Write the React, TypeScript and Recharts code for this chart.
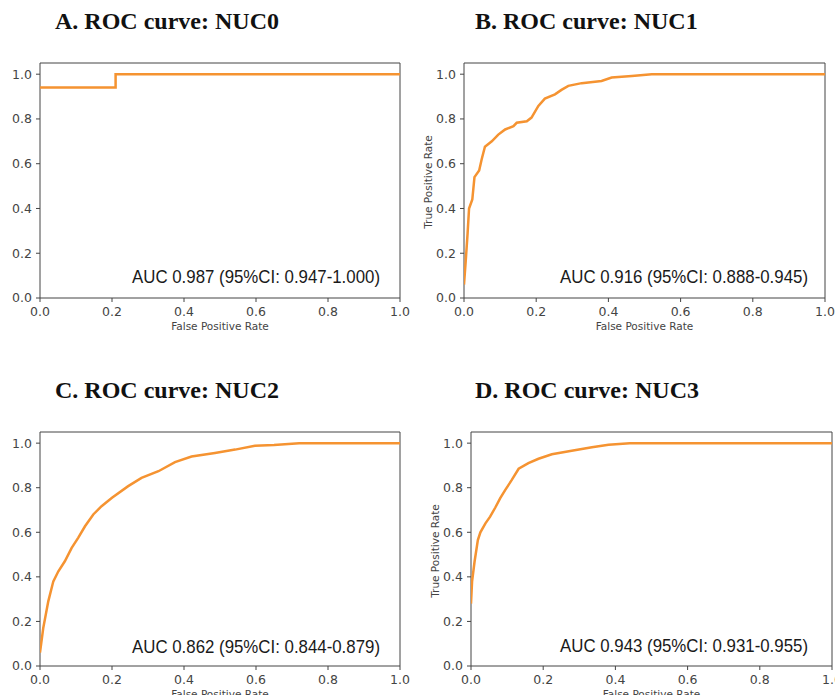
import React from 'react';
import { LineChart, Line, XAxis, YAxis, ReferenceArea } from 'recharts';

const TICKS = [0, 0.2, 0.4, 0.6, 0.8, 1.0];
const TITLES = ['A. ROC curve: NUC0', 'B. ROC curve: NUC1', 'C. ROC curve: NUC2', 'D. ROC curve: NUC3'];
const AUC_LABELS = [
  'AUC 0.987 (95%CI: 0.947-1.000)',
  'AUC 0.916 (95%CI: 0.888-0.945)',
  'AUC 0.862 (95%CI: 0.844-0.879)',
  'AUC 0.943 (95%CI: 0.931-0.955)',
];
const X_LABEL = 'False Positive Rate';
const Y_LABEL = 'True Positive Rate';

const fprA = [0, 0.21, 0.21, 1.0];
const tprA = [0.94, 0.94, 1.0, 1.0];

const fprB = [0, 0.005, 0.01, 0.014, 0.023, 0.029, 0.042, 0.049, 0.058, 0.077, 0.095, 0.114, 0.137, 0.146, 0.174, 0.187, 0.206, 0.224, 0.252, 0.27, 0.289, 0.326, 0.381, 0.409, 0.465, 0.52, 1.0];
const tprB = [0.06, 0.17, 0.29, 0.40, 0.44, 0.54, 0.57, 0.62, 0.676, 0.70, 0.73, 0.753, 0.768, 0.783, 0.79, 0.806, 0.858, 0.891, 0.91, 0.93, 0.948, 0.96, 0.97, 0.985, 0.992, 1.0, 1.0];

const fprC = [0, 0.009, 0.023, 0.037, 0.051, 0.069, 0.088, 0.106, 0.125, 0.148, 0.171, 0.2, 0.245, 0.282, 0.329, 0.375, 0.421, 0.486, 0.542, 0.597, 0.65, 0.72, 1.0];
const tprC = [0.06, 0.17, 0.29, 0.38, 0.425, 0.47, 0.53, 0.575, 0.627, 0.68, 0.717, 0.755, 0.807, 0.844, 0.874, 0.915, 0.94, 0.956, 0.971, 0.988, 0.992, 1.0, 1.0];

const fprD = [0, 0.003, 0.01, 0.019, 0.026, 0.04, 0.053, 0.067, 0.081, 0.095, 0.113, 0.132, 0.159, 0.187, 0.224, 0.279, 0.335, 0.381, 0.44, 1.0];
const tprD = [0.28, 0.38, 0.47, 0.565, 0.60, 0.64, 0.67, 0.71, 0.753, 0.79, 0.835, 0.885, 0.91, 0.93, 0.95, 0.966, 0.982, 0.993, 1.0, 1.0];

const toRows = (f: number[], t: number[]) => f.map((x, i) => ({ fpr: x, tpr: t[i] }));

const LINE_COLOR = '#f59331';
const AXIS_COLOR = '#444';
const TEXT_GRAY = '#444';

type Box = { left: number; top: number; plotLeft: number; plotTop: number; plotW: number; plotH: number; rightPad: number };

const BOXES: Box[] = [
  { left: 0, top: 50, plotLeft: 40, plotTop: 63, plotW: 360, plotH: 235, rightPad: 10 },
  { left: 415, top: 50, plotLeft: 464, plotTop: 63, plotW: 361, plotH: 235, rightPad: 10 },
  { left: 0, top: 419, plotLeft: 40, plotTop: 432, plotW: 360, plotH: 234, rightPad: 10 },
  { left: 415, top: 419, plotLeft: 471, plotTop: 432, plotW: 361, plotH: 234, rightPad: 3 },
];

const fmt = (v: number) => v.toFixed(1);

function Panel({ box, rows }: { box: Box; rows: { fpr: number; tpr: number }[] }) {
  const { left, top, plotLeft, plotTop, plotW, plotH, rightPad } = box;
  const yW = plotLeft - left;
  const mt = plotTop - top;
  const xH = 45;
  const width = yW + plotW + rightPad;
  const height = mt + plotH + xH;
  const tickStyle = { fill: TEXT_GRAY, fontSize: 12.5, fontFamily: 'DejaVu Sans' };
  return (
    <div style={{ position: 'absolute', left, top }}>
      <LineChart width={width} height={height} data={rows} margin={{ top: mt, right: rightPad, left: 0, bottom: 0 }}>
        <XAxis
          dataKey="fpr"
          type="number"
          domain={[0, 1]}
          ticks={TICKS}
          interval={0}
          tickFormatter={fmt}
          allowDataOverflow
          height={xH}
          tickSize={4}
          tickMargin={5}
          axisLine={false}
          tickLine={{ stroke: AXIS_COLOR }}
          tick={tickStyle}
          label={{ value: X_LABEL, position: 'insideBottom', offset: 13, fill: TEXT_GRAY, fontSize: 10.5, fontFamily: 'DejaVu Sans' }}
        />
        <YAxis
          type="number"
          domain={[0, 1.05]}
          ticks={TICKS}
          interval={0}
          tickFormatter={fmt}
          allowDataOverflow
          width={yW}
          tickSize={4}
          tickMargin={4}
          axisLine={false}
          tickLine={{ stroke: AXIS_COLOR }}
          tick={tickStyle}
        />
        <ReferenceArea x1={0} x2={1} y1={0} y2={1.05} fill="none" fillOpacity={0} stroke={AXIS_COLOR} strokeWidth={1} ifOverflow="visible" />
        <Line dataKey="tpr" type="linear" stroke={LINE_COLOR} strokeWidth={2.5} dot={false} activeDot={false} isAnimationActive={false} />
      </LineChart>
    </div>
  );
}

const DATASETS = [toRows(fprA, tprA), toRows(fprB, tprB), toRows(fprC, tprC), toRows(fprD, tprD)];

const TITLE_POS = [
  { x: 55, y: 29 },
  { x: 475, y: 29 },
  { x: 55, y: 398 },
  { x: 475, y: 398 },
];
const AUC_POS = [
  { x: 380, y: 283 },
  { x: 808, y: 283 },
  { x: 380, y: 653 },
  { x: 808, y: 652 },
];
const YLABEL_POS = [null, { x: 428, y: 182 }, null, { x: 435, y: 551 }];

export default function App() {
  return (
    <div style={{ position: 'absolute', left: 0, top: 0, width: 835, height: 695, overflow: 'hidden', background: '#fff' }}>
      {DATASETS.map((rows, i) => (
        <Panel key={i} box={BOXES[i]} rows={rows} />
      ))}
      <svg width={835} height={695} style={{ position: 'absolute', left: 0, top: 0, pointerEvents: 'none' }}>
        {TITLES.map((t, i) => (
          <text key={'t' + i} x={TITLE_POS[i].x} y={TITLE_POS[i].y} fontFamily="Liberation Serif" fontWeight="bold" fontSize={24} fill="#111">
            {t}
          </text>
        ))}
        {AUC_LABELS.map((t, i) => (
          <text key={'a' + i} x={AUC_POS[i].x - 248} y={AUC_POS[i].y} fontFamily="Liberation Sans" fontSize={19} fill="#1a1a1a" textLength={248} lengthAdjust="spacingAndGlyphs">
            {t}
          </text>
        ))}
        {YLABEL_POS.map((p, i) =>
          p ? (
            <text key={'y' + i} x={p.x} y={p.y} transform={`rotate(-90 ${p.x} ${p.y})`} textAnchor="middle" dominantBaseline="central" fontFamily="DejaVu Sans" fontSize={10.5} fill={TEXT_GRAY}>
              {Y_LABEL}
            </text>
          ) : null
        )}
      </svg>
    </div>
  );
}
